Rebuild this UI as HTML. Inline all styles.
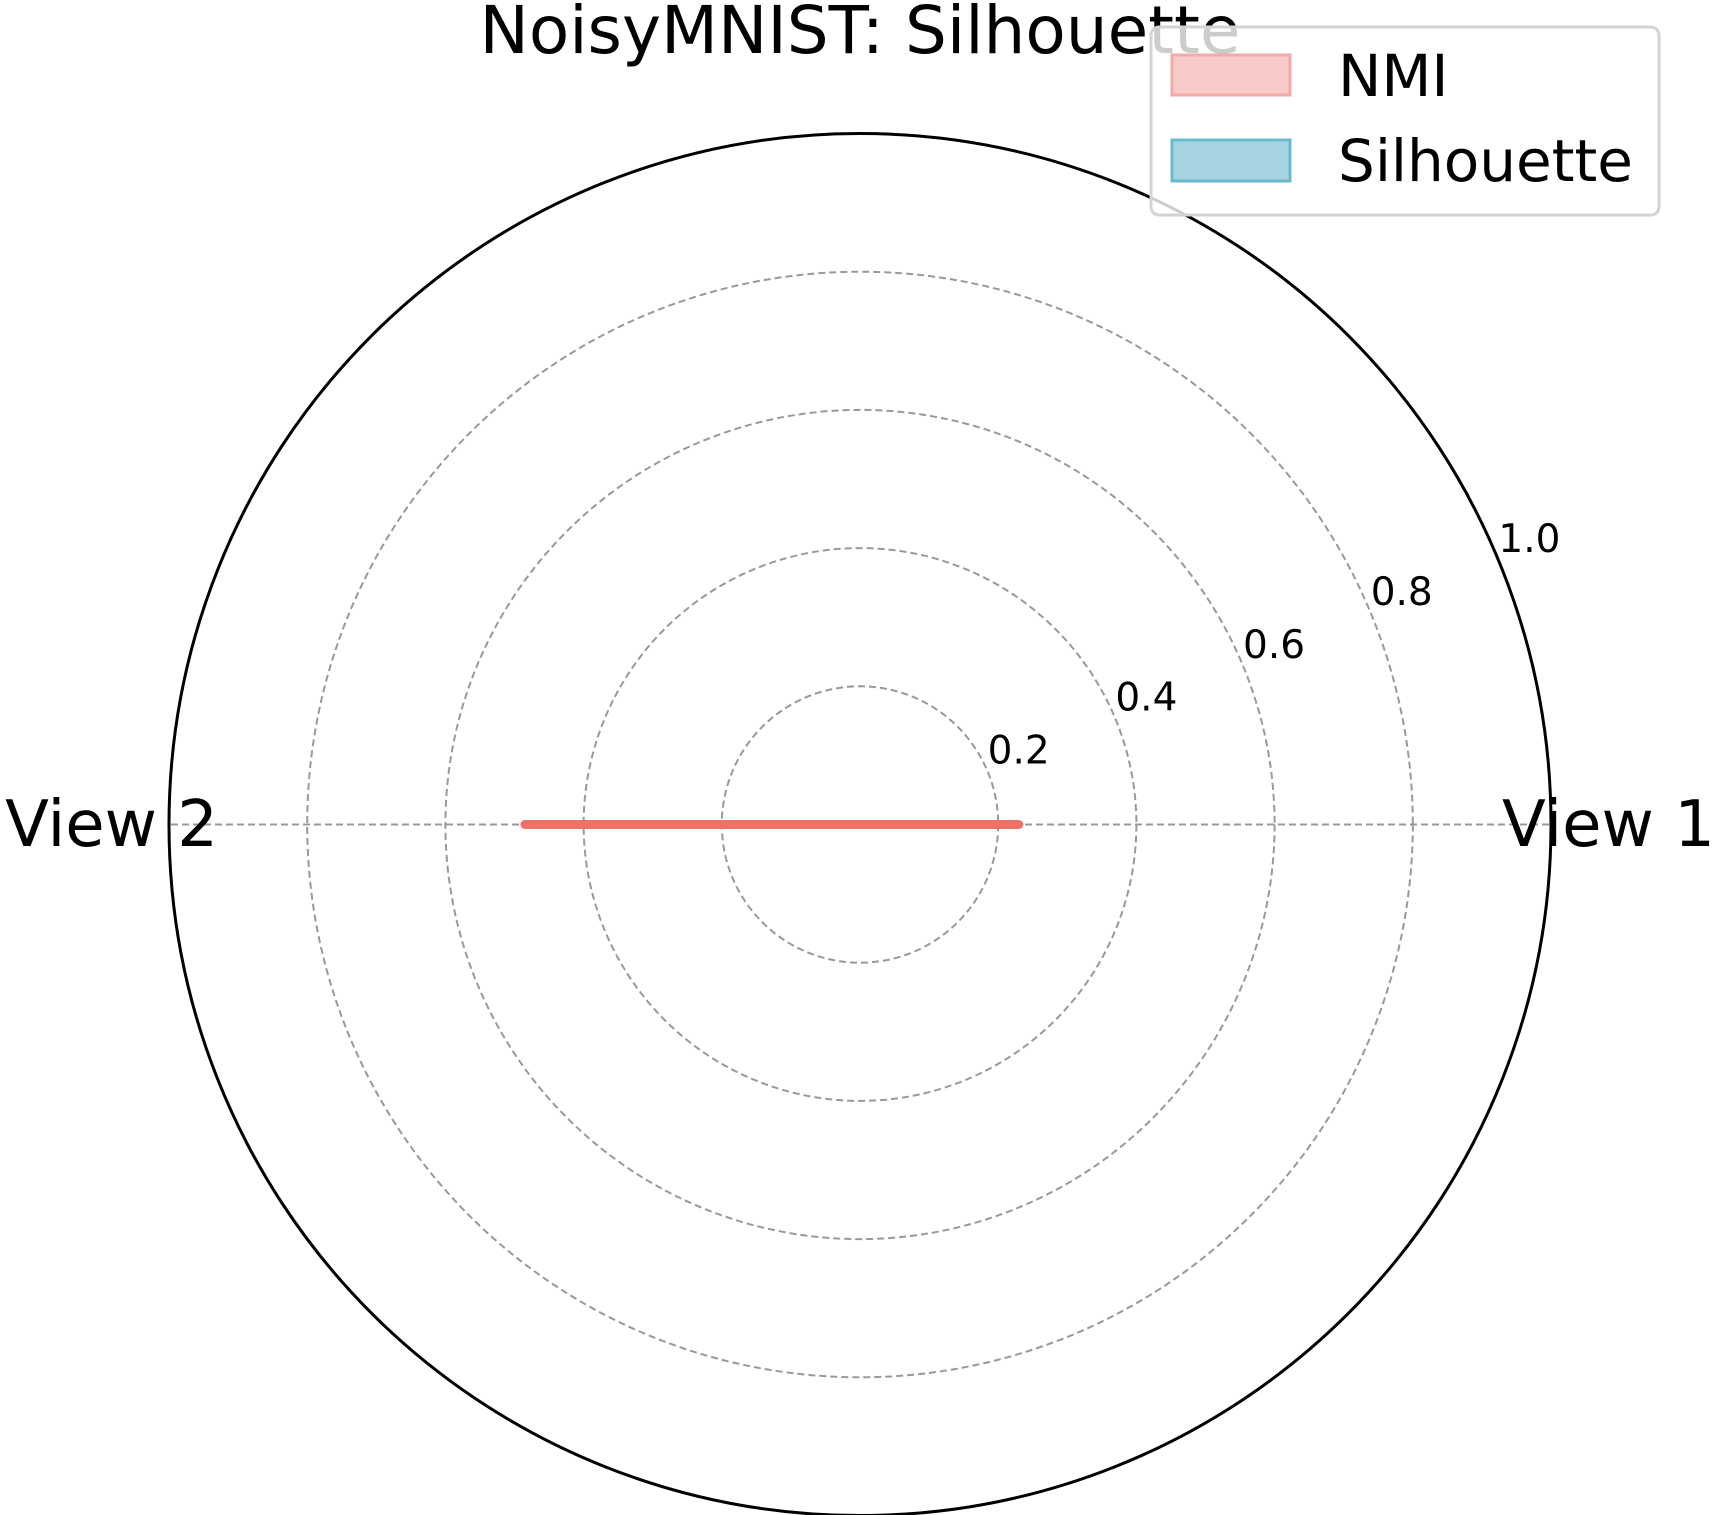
<!DOCTYPE html>
<html><head><meta charset="utf-8"><style>
html,body{margin:0;padding:0;background:#fff;}
svg{display:block;font-family:"DejaVu Sans","Liberation Sans",sans-serif;}
</style></head><body>
<svg id="chart" width="1718" height="1515" viewBox="0 0 1718 1515">
<text x="860" y="53" font-size="66" text-anchor="middle">NoisyMNIST: Silhouette</text>
<g id="grid"></g>
<g id="series"></g>
<g id="labels"></g>
<g>
<rect x="1151" y="27" width="508" height="188" rx="8" fill="#fff" fill-opacity="0.8" stroke="#d3d3d3" stroke-width="3"/>
<rect x="1172" y="55" width="118" height="40" fill="#f8cbca" stroke="#f4aaa8" stroke-width="3"/>
<text x="1338" y="96" font-size="58">NMI</text>
<rect x="1172" y="140" width="118" height="41" fill="#a6d4e0" stroke="#6ab9cf" stroke-width="3"/>
<text x="1338" y="181" font-size="58">Silhouette</text>
</g>
</svg>
<script>
const categories = ["View 1", "View 2"];
const nmiValues = [0.23, 0.485];
const radialTicks = [0.2, 0.4, 0.6, 0.8, 1.0];
const tickLabels = ["0.2", "0.4", "0.6", "0.8", "1.0"];

const NS = "http://www.w3.org/2000/svg";
const cx = 860, cy = 824.5, R = 691;
function rScale(v){ return v * R; }
function angleOf(i){ return i * 2 * Math.PI / categories.length; }
function px(i, v){ return cx + rScale(v) * Math.cos(angleOf(i)); }
function py(i, v){ return cy - rScale(v) * Math.sin(angleOf(i)); }
function mk(tag, attrs){ const e = document.createElementNS(NS, tag); for (const k in attrs) e.setAttribute(k, attrs[k]); return e; }

const grid = document.getElementById('grid');
radialTicks.forEach((t, i) => {
  if (t < 1) {
    const c = mk('circle', {cx: cx, cy: cy, r: rScale(t), fill: 'none', stroke: '#999', 'stroke-width': 2, 'stroke-dasharray': '7,4'});
    
    
    grid.appendChild(c);
  }
});
categories.forEach((c, i) => {
  const l = mk('line', {x1: cx, y1: cy, x2: px(i, 1), y2: py(i, 1), stroke: '#999', 'stroke-width': 2, 'stroke-dasharray': '7,4'});
  
  
  grid.appendChild(l);
});
const outer = mk('circle', {cx: cx, cy: cy, r: R, fill: 'none', stroke: '#000', 'stroke-width': 3});


grid.appendChild(outer);

const series = document.getElementById('series');
const pts = nmiValues.map((v, i) => px(i, v).toFixed(1) + ',' + py(i, v).toFixed(1)).join(' ');
const poly = mk('polygon', {points: pts, fill: '#f8cbca', 'fill-opacity': 0.5, stroke: '#f07167', 'stroke-width': 9, 'stroke-linejoin': 'round', 'stroke-linecap': 'round'});


series.appendChild(poly);

const labels = document.getElementById('labels');
const tickAng = 22.5 * Math.PI / 180;
radialTicks.forEach((t, i) => {
  const tx = mk('text', {x: cx + rScale(t) * Math.cos(tickAng), y: cy - rScale(t) * Math.sin(tickAng) - 8, 'font-size': 39});
  tx.textContent = tickLabels[i];
  
  
  labels.appendChild(tx);
});
categories.forEach((c, i) => {
  const anchor = Math.cos(angleOf(i)) > 0 ? 'start' : 'end';
  const x = Math.cos(angleOf(i)) > 0 ? 1502 : 218;
  const tx = mk('text', {x: x, y: 846, 'font-size': 64, 'text-anchor': anchor});
  tx.textContent = c;
  
  
  labels.appendChild(tx);
});
</script>
</body></html>
